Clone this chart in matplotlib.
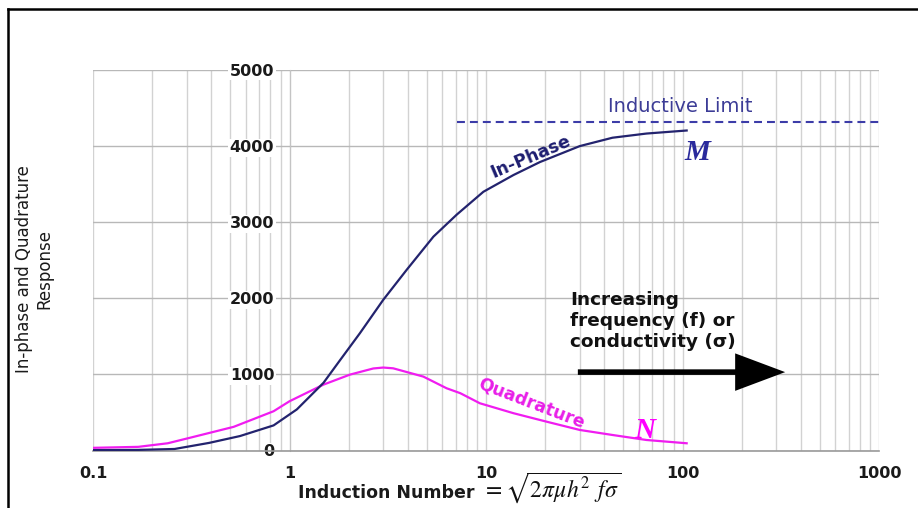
import matplotlib
matplotlib.use("Agg")
import matplotlib.pyplot as plt
from matplotlib.lines import Line2D
from matplotlib.patches import FancyArrowPatch
from matplotlib.ticker import LogLocator, NullFormatter

plt.rcParams['mathtext.fontset'] = 'stix'

# Induction number (log axis) and the two response components
induction_inphase = [0.1, 0.17, 0.26, 0.39, 0.56, 0.83, 1.09, 1.49, 1.8, 2.28,
                     3.0, 3.95, 5.4, 7.1, 9.7, 13.8, 18.8, 30, 44, 65.6, 105]
inphase = [5, 8, 20, 100, 190, 330, 540, 890, 1180, 1540,
           1980, 2375, 2810, 3100, 3400, 3620, 3790, 4000, 4110, 4165, 4205]

induction_quad = [0.1, 0.17, 0.24, 0.31, 0.52, 0.83, 1.0, 1.49, 2.03, 2.67,
                  3.0, 3.37, 4.8, 6.3, 7.4, 9.3, 13.8, 20.4, 30, 44, 65.6, 105]
quadrature = [35, 48, 95, 166, 311, 516, 647, 866, 997, 1078,
              1090, 1080, 971, 818, 753, 621, 490, 378, 270, 204, 138, 95]

inductive_limit = 4320
limit_span = [7.1, 1000]

x_ticks = [0.1, 1, 10, 100, 1000]
x_tick_labels = ['0.1', '1', '10', '100', '1000']
y_ticks = [0, 1000, 2000, 3000, 4000, 5000]
y_tick_labels = ['0', '1000', '2000', '3000', '4000', '5000']

W, H = 918, 508
fig = plt.figure(figsize=(W / 100, H / 100), dpi=100)
fig.patch.set_facecolor('white')


def fx(px):
    return px / W


def fy(py):
    return 1 - py / H


ax = fig.add_axes([fx(93), fy(450.5), fx(879) - fx(93), fy(70) - fy(450.5)])
ax.set_xscale('log')

# y axis crosses at induction number 1
ax.spines['left'].set_position(('data', 1))
ax.spines['left'].set_color('#c4c4c4')
ax.spines['top'].set_visible(False)
ax.spines['right'].set_visible(False)
ax.spines['bottom'].set_color('#9a9a9a')
ax.spines['bottom'].set_linewidth(1.2)

ax.set_xlim(0.1, 1000)
ax.set_ylim(0, 5000)

tick_font = dict(family='DejaVu Sans', weight='bold', size=11.5)
ax.set_xticks(x_ticks)
ax.set_xticklabels(x_tick_labels, fontdict=tick_font, color='#1a1a1a')
ax.xaxis.set_minor_locator(LogLocator(base=10, subs=range(2, 10)))
ax.xaxis.set_minor_formatter(NullFormatter())
ax.set_yticks(y_ticks)
ax.set_yticklabels(y_tick_labels, fontdict=tick_font, color='#1a1a1a')
for lbl in ax.get_yticklabels():
    lbl.set_bbox(dict(facecolor='white', edgecolor='none', pad=1.0))

ax.set_axisbelow(True)
ax.grid(which='both', axis='x', color='#d2d2d2', lw=1.0)
ax.grid(which='major', axis='y', color='#b8b8b8', lw=1.0)
ax.tick_params(which='both', length=0)
ax.tick_params(axis='x', pad=11)
ax.tick_params(axis='y', pad=11)

# Response curves
ax.plot(induction_quad, quadrature, color='#f01cf0', lw=1.6, zorder=3)
ax.plot(induction_inphase, inphase, color='#23236e', lw=1.6, zorder=4)

# Inductive limit
ax.plot(limit_span, [inductive_limit, inductive_limit], color='#3c3ca8',
        lw=1.5, ls=(0, (3.8, 2.4)), zorder=3)
ax.text(41.8, 4521, 'Inductive Limit', fontsize=14, color='#3c3c96',
        ha='left', va='center', family='DejaVu Sans')

# Curve labels
ax.text(16.9, 3865, 'In-Phase', fontsize=12.5, fontweight='bold', color='#1e1e70',
        rotation=23, rotation_mode='anchor', ha='center', va='center')
ax.text(17.1, 623, 'Quadrature', fontsize=12.5, fontweight='bold', color='#e81ee8',
        rotation=-21, rotation_mode='anchor', ha='center', va='center')
ax.text(118.6, 3917, 'M', fontsize=21, fontweight='bold', fontstyle='italic',
        family='Liberation Serif', color='#2a2a9c', ha='center', va='center')
ax.text(64.4, 269, 'N', fontsize=21, fontweight='bold', fontstyle='italic',
        family='Liberation Serif', color='#ff00ff', ha='center', va='center')

# Direction arrow with caption
ax.text(26.8, 2100, 'Increasing\nfrequency (f) or\nconductivity (\u03c3)',
        fontsize=13.3, fontweight='bold', color='#111111', ha='left', va='top',
        linespacing=1.22)
arrow = FancyArrowPatch((28.4, 1030), (344, 1030),
                        arrowstyle='simple,tail_width=4,head_width=27,head_length=36',
                        mutation_scale=1, color='black', lw=0, zorder=5)
ax.add_patch(arrow)

# Axis titles
fig.text(fx(34), fy(269), 'In-phase and Quadrature\nResponse', rotation=90,
         ha='center', va='center', multialignment='center', fontsize=12,
         color='#1a1a1a')
fig.text(fx(475), fy(493), 'Induction Number', ha='right', va='center',
         fontsize=12.5, fontweight='bold', color='#1a1a1a')
fig.text(fx(482), fy(497), r'$=\sqrt{2\pi\mu h^{2}\;\,f\sigma}$', ha='left',
         va='baseline', fontsize=17, color='#111111')

# Frame around the figure
fig.add_artist(Line2D([fx(8), fx(8)], [fy(9), 0], color='black', lw=1.8,
                      transform=fig.transFigure))
fig.add_artist(Line2D([fx(8), 1], [fy(9), fy(9)], color='black', lw=1.8,
                      transform=fig.transFigure))

fig.savefig('out.png', dpi=100, facecolor='white')
